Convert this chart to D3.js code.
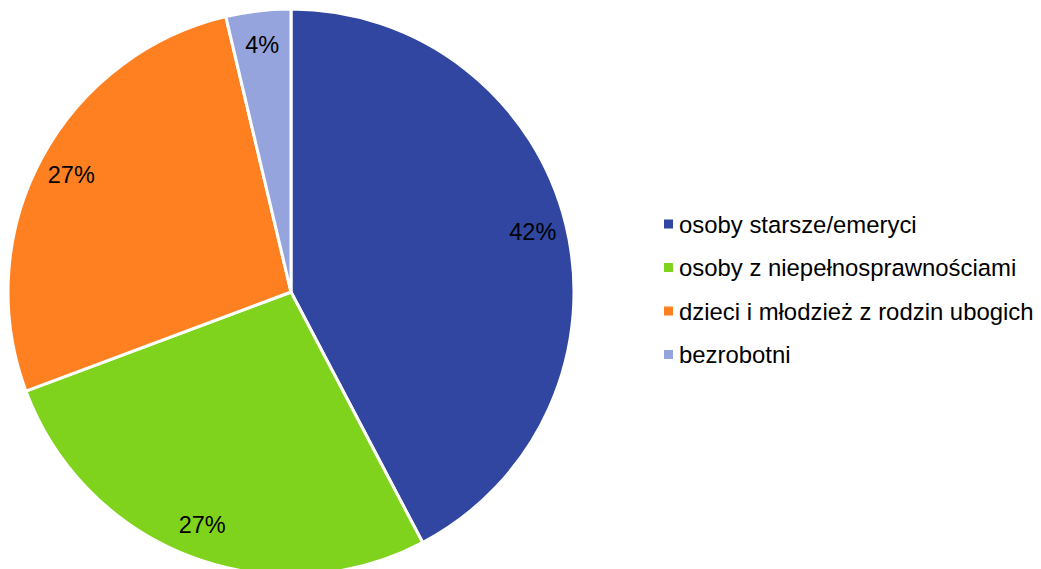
<!DOCTYPE html>
<html><head><meta charset="utf-8">
<script src="https://cdn.jsdelivr.net/npm/d3@7"></script>
<style>body{margin:0;background:#fff;}svg{display:block;font-family:"Liberation Sans",Arial,sans-serif;}</style>
</head><body>
<svg id="chart" width="1041" height="569"></svg>
<script>
const categories = ["osoby starsze/emeryci", "osoby z niepełnosprawnościami", "dzieci i młodzież z rodzin ubogich", "bezrobotni"];
const values = [42.3, 27.0, 27.0, 3.7];
const colors = ["#3046A0", "#80D31C", "#FF8021", "#95A4DC"];

const svg = d3.select("#chart");
const cx = 291, cy = 292, R = 283;
const data = categories.map((c, i) => ({name: c, value: values[i], color: colors[i]}));
const total = d3.sum(values);
const pie = d3.pie().sort(null).value(d => d.value);
const arc = d3.arc().innerRadius(0).outerRadius(R);
const labelArc = d3.arc().innerRadius(R * 0.88).outerRadius(R * 0.88);
const g = svg.append("g").attr("transform", `translate(${cx},${cy})`);
const arcs = pie(data);
g.selectAll("path").data(arcs).join("path")
  .attr("d", arc).attr("fill", d => d.data.color)
  .attr("stroke", "#fff").attr("stroke-width", 3).attr("stroke-linejoin", "round");
const fmt = d3.format(".0%");
g.selectAll("text").data(arcs).join("text")
  .attr("transform", d => `translate(${labelArc.centroid(d)})`)
  .attr("text-anchor", "middle").attr("dominant-baseline", "central")
  .attr("font-size", 23.5).attr("fill", "#000")
  .text(d => fmt(d.data.value / total));

const legend = svg.append("g").attr("transform", "translate(664,224)");
const rowH = 43.5;
const items = legend.selectAll("g").data(data).join("g")
  .attr("transform", (d, i) => `translate(0,${i * rowH})`);
items.append("rect").attr("x", 0).attr("y", -4.5).attr("width", 9).attr("height", 9).attr("fill", d => d.color);
items.append("text").attr("x", 15).attr("y", 0).attr("dominant-baseline", "central")
  .attr("font-size", 23.9).attr("fill", "#000").text(d => d.name);
</script>
</body></html>
